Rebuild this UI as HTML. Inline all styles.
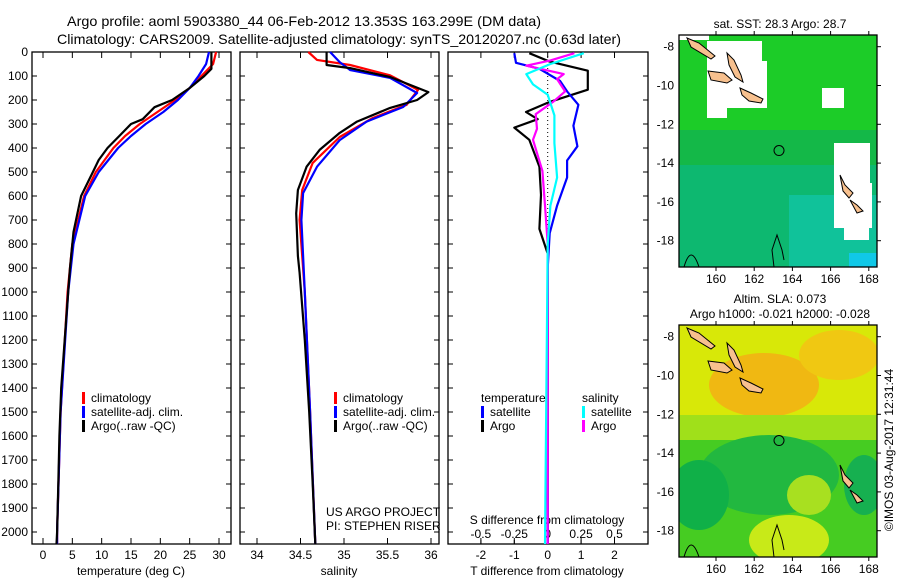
<!DOCTYPE html>
<html><head><meta charset="utf-8"><style>
html,body{margin:0;padding:0;background:#fff}
svg{display:block;font-family:"Liberation Sans",sans-serif}
</style></head><body>
<svg id="c" width="900" height="580" viewBox="0 0 900 580"></svg>
<script>
// ---- data ----
const tDepth=[0,50,70,100,150,200,230,280,300,350,400,450,500,600,750,900,1000,1200,1400,1600,1800,2000,2050];
const tArgo=[28.7,28.7,28.7,27.5,25,22,19,17,15,13,11,9.5,8.5,6.5,5.2,4.6,4.3,3.7,3.1,2.8,2.6,2.4,2.3];
const tClimDepth=[0,50,100,150,200,250,300,350,400,500,600,800,1000,1500,2000,2050];
const tClim=[29.5,29,27,25,22.5,19.5,16.5,14,12,9,7,5,4.2,3,2.4,2.4];
const tSat=[28.3,27.8,26.5,25,23,20.5,17.5,15,12.8,9.5,7.2,5.2,4.3,3.0,2.4,2.4];
const sArgoDepth=[0,54,67,104,167,200,233,290,337,408,478,575,672,850,920,1200,1500,1800,2050];
const sArgo=[34.8,34.8,35.07,35.53,35.97,35.84,35.53,35.15,34.95,34.72,34.57,34.47,34.45,34.47,34.49,34.55,34.6,34.64,34.67];
const sClimDepth=[0,33,54,97,158,220,275,354,462,575,700,1000,1500,2050];
const sClim=[34.59,34.69,35.07,35.53,35.85,35.72,35.33,34.95,34.64,34.52,34.49,34.55,34.61,34.67];
const sSatDepth=[0,42,75,108,171,229,290,367,478,588,700,1000,1500,2050];
const sSat=[34.84,34.95,35.07,35.53,35.84,35.68,35.26,34.95,34.69,34.53,34.51,34.55,34.61,34.67];
const dTArgoDepth=[5,40,78,107,157,208,250,280,315,366,478,595,737,840,2050];
const dTArgo=[-0.55,0.06,1.2,1.2,1.2,0.06,-0.65,-0.3,-1.0,-0.55,-0.25,-0.2,-0.25,0.0,0.0];
const dTSatDepth=[5,45,70,121,164,220,307,393,452,523,640,755,900,2050];
const dTSat=[-1.0,-0.95,-0.25,0.37,0.58,0.92,0.77,0.89,0.58,0.58,0.28,0.06,0.0,0.0];
const dSSatDepth=[5,50,92,135,178,264,380,523,640,800,2050];
const dSSat=[0.27,0.02,-0.16,-0.11,0.0,0.05,0.05,0.07,0.02,0.0,-0.02];
const dSArgoDepth=[5,35,57,92,113,164,208,259,320,366,496,640,800,2050];
const dSArgo=[0.2,0.02,-0.16,0.12,0.07,0.13,0.04,-0.09,-0.08,-0.11,-0.04,-0.02,0.0,0.0];
const depthTicks=[0,100,200,300,400,500,600,700,800,900,1000,1100,1200,1300,1400,1500,1600,1700,1800,1900,2000];
const tTicks=[0,5,10,15,20,25,30];
const sTicks=[34,34.5,35,35.5,36];
const sTickLabels=["34","34.5","35","35.5","36"];
const dTTicks=[-2,-1,0,1,2];
const dSTicks=[-0.5,-0.25,0,0.25,0.5];
const dSTickLabels=["-0.5","-0.25","0","0.25","0.5"];
const lonTicks=[160,162,164,166,168];
const latTicks=[-8,-10,-12,-14,-16,-18];

const NS="http://www.w3.org/2000/svg";
const svg=document.getElementById('c');
function el(tag,attrs,parent,txt){const e=document.createElementNS(NS,tag);for(const k in attrs)e.setAttribute(k,attrs[k]);if(txt!=null)e.textContent=txt;(parent||svg).appendChild(e);return e;}
const Y=d=>52+d*0.24;
const xT=v=>43+v*(176/30);
const xS=v=>257+(v-34)*87;
const xDT=v=>547.7+v*33.4;
const xDS=v=>547.7+v*133.6;

let t1=el('text',{x:67,y:26,'font-size':14,textLength:474,lengthAdjust:'spacingAndGlyphs'},svg,'Argo profile: aoml 5903380_44 06-Feb-2012 13.353S 163.299E (DM data)');

let t2=el('text',{x:57,y:44,'font-size':14,textLength:564,lengthAdjust:'spacingAndGlyphs'},svg,'Climatology: CARS2009. Satellite-adjusted climatology: synTS_20120207.nc (0.63d later)');


const panels=[{x0:32,x1:231,name:'temperature-panel'},{x0:240,x1:439,name:'salinity-panel'},{x0:448,x1:648,name:'difference-panel'}];
panels.forEach(p=>{
  const g=el('g',{});
  
  p.g=g;
  el('rect',{x:p.x0,y:52,width:p.x1-p.x0,height:492,fill:'none',stroke:'#000','stroke-width':1.3},g);
  depthTicks.forEach(d=>{
    el('line',{x1:p.x0,x2:p.x0+5,y1:Y(d),y2:Y(d),stroke:'#000'},g);
    el('line',{x1:p.x1-5,x2:p.x1,y1:Y(d),y2:Y(d),stroke:'#000'},g);
  });
});
const yax=el('g',{});
depthTicks.forEach(d=>{el('text',{x:28,y:Y(d)+4,'font-size':12,'text-anchor':'end'},yax,String(d));});

function xAxis(g,ticks,labels,fx,ty,name){
  const a=el('g',{},g);
  ticks.forEach((v,i)=>{
    el('line',{x1:fx(v),x2:fx(v),y1:544,y2:538,stroke:'#000'},a);
    el('line',{x1:fx(v),x2:fx(v),y1:52,y2:58,stroke:'#000'},a);
    el('text',{x:fx(v),y:ty,'font-size':12,'text-anchor':'middle'},a,labels[i]);
  });
}
xAxis(panels[0].g,tTicks,tTicks.map(String),xT,559,'temperature-x-axis');
xAxis(panels[1].g,sTicks,sTickLabels,xS,559,'salinity-x-axis');
xAxis(panels[2].g,dTTicks,dTTicks.map(String),xDT,559,'t-diff-x-axis');
const sda=el('g',{},panels[2].g);
dSTicks.forEach((v,i)=>{el('line',{x1:xDS(v),x2:xDS(v),y1:544,y2:540,stroke:'#000'},sda);el('text',{x:xDS(v),y:538,'font-size':12,'text-anchor':'middle'},sda,dSTickLabels[i]);});
el('text',{x:547,y:524,'font-size':12,'text-anchor':'middle'},sda,'S difference from climatology');
let at;
at=el('text',{x:131,y:575,'font-size':12,'text-anchor':'middle'},svg,'temperature (deg C)');
at=el('text',{x:339,y:575,'font-size':12,'text-anchor':'middle'},svg,'salinity');
at=el('text',{x:547,y:575,'font-size':12,'text-anchor':'middle'},svg,'T difference from climatology');

el('line',{x1:xDT(0),x2:xDT(0),y1:52,y2:544,stroke:'#000','stroke-dasharray':'1 3'},panels[2].g);

function line(g,ds,vs,fx,col,w,name){
  const pts=ds.map((d,i)=>fx(vs[i]).toFixed(1)+','+Y(d).toFixed(1)).join(' ');
  const p=el('polyline',{points:pts,fill:'none',stroke:col,'stroke-width':w,'stroke-linejoin':'round'},g);
  
}
line(panels[0].g,tClimDepth,tClim,xT,'#f00',2.2,'temp-climatology-line');
line(panels[0].g,tClimDepth,tSat,xT,'#00f',2.2,'temp-satellite-line');
line(panels[0].g,tDepth,tArgo,xT,'#000',2.2,'temp-argo-line');
line(panels[1].g,sClimDepth,sClim,xS,'#f00',2.2,'sal-climatology-line');
line(panels[1].g,sSatDepth,sSat,xS,'#00f',2.2,'sal-satellite-line');
line(panels[1].g,sArgoDepth,sArgo,xS,'#000',2.2,'sal-argo-line');
line(panels[2].g,dTArgoDepth,dTArgo,xDT,'#000',2.2,'t-diff-argo-line');
line(panels[2].g,dTSatDepth,dTSat,xDT,'#00f',2.2,'t-diff-satellite-line');
line(panels[2].g,dSArgoDepth,dSArgo,xDS,'#f0f',2.2,'s-diff-argo-line');
line(panels[2].g,dSSatDepth,dSSat,xDS,'#0ff',2.2,'s-diff-satellite-line');

function legend(g,x,y,items,name){
  const lg=el('g',{},g);
  items.forEach((it,i)=>{
    if(it[0])el('rect',{x:x,y:y+i*14-10,width:3,height:12,fill:it[0]},lg);
    el('text',{x:x+(it[0]?9:0),y:y+i*14,'font-size':12},lg,it[1]);
  });
}
legend(panels[0].g,82,402,[['#f00','climatology'],['#00f','satellite-adj. clim.'],['#000','Argo(..raw -QC)']],'temperature-legend');
legend(panels[1].g,334,402,[['#f00','climatology'],['#00f','satellite-adj. clim.'],['#000','Argo(..raw -QC)']],'salinity-legend');
legend(panels[2].g,481,402,[[null,'temperature'],['#00f','satellite'],['#000','Argo']],'diff-legend-temperature');
legend(panels[2].g,582,402,[[null,'salinity'],['#0ff','satellite'],['#f0f','Argo']],'diff-legend-salinity');
el('text',{x:326,y:516,'font-size':12},panels[1].g,'US ARGO PROJECT');
el('text',{x:326,y:530,'font-size':12},panels[1].g,'PI: STEPHEN RISER');

// ---- maps ----
const lonX=l=>716+(l-160)*19.1;
function map(y0,kind,name,t1s){
  const g=el('g',{});
  const latY=l=>y0+11.7+(-8-l)*19.4;
  const h=232, x0=679, w=198;
  const cid='clip'+kind;
  const cp=el('clipPath',{id:cid},g);el('rect',{x:x0,y:y0,width:w,height:h},cp);
  const inner=el('g',{'clip-path':'url(#'+cid+')'},g);
  if(kind==='sst'){
    el('rect',{x:x0,y:y0,width:w,height:h,fill:'#14b848'},inner);
    el('rect',{x:x0,y:y0,width:w,height:95,fill:'#1ccc28'},inner);
    el('rect',{x:x0,y:y0+130,width:w,height:102,fill:'#0db870'},inner);
    el('rect',{x:x0+110,y:y0+160,width:88,height:72,fill:'#10c29a'},inner);
    el('rect',{x:x0+170,y:y0+218,width:28,height:14,fill:'#10c8e8'},inner);
    [[0,0,30,5],[28,6,55,20],[28,26,60,47],[28,73,20,10],[143,53,22,20],[155,108,36,40],[155,148,38,45],[165,193,25,12]].forEach(r=>el('rect',{x:x0+r[0],y:y0+r[1],width:r[2],height:r[3],fill:'#fff'},inner));
  } else {
    el('rect',{x:x0,y:y0,width:w,height:h,fill:'#46cc22'},inner);
    el('rect',{x:x0,y:y0,width:w,height:95,fill:'#d8e808'},inner);
    el('ellipse',{cx:x0+85,cy:y0+60,rx:55,ry:32,fill:'#f0b812'},inner);
    el('ellipse',{cx:x0+160,cy:y0+30,rx:40,ry:25,fill:'#f0c812'},inner);
    el('rect',{x:x0,y:y0+90,width:w,height:25,fill:'#a0e01a'},inner);
    el('ellipse',{cx:x0+90,cy:y0+150,rx:70,ry:40,fill:'#22b840'},inner);
    el('ellipse',{cx:x0+20,cy:y0+170,rx:30,ry:35,fill:'#10b048'},inner);
    el('ellipse',{cx:x0+110,cy:y0+215,rx:40,ry:25,fill:'#c8ea18'},inner);
    el('ellipse',{cx:x0+130,cy:y0+170,rx:22,ry:20,fill:'#a8e020'},inner);
    el('ellipse',{cx:x0+185,cy:y0+160,rx:20,ry:30,fill:'#16b050'},inner);
  }
  const isl=[[[8,3],[20,8],[36,21],[32,24],[12,12]],[[29,36],[45,38],[53,45],[48,48],[32,45]],[[48,18],[55,25],[62,40],[64,47],[56,42],[50,30]],[[61,53],[72,58],[84,64],[82,68],[70,66],[63,60]],[[161,140],[166,150],[174,158],[170,163],[164,156]],[[171,165],[178,170],[184,176],[178,178]]];
  isl.forEach(pl=>el('polygon',{points:pl.map(p=>(x0+p[0])+','+(y0+p[1])).join(' '),fill:'#f7c08e',stroke:'#000','stroke-width':1},inner));
  el('path',{d:`M${x0+95} ${y0+232} L${x0+93} ${y0+215} L${x0+98} ${y0+200} L${x0+103} ${y0+215} L${x0+105} ${y0+225}`,fill:'none',stroke:'#000'},inner);
  el('path',{d:`M${x0+5} ${y0+232} Q${x0+12} ${y0+208} ${x0+20} ${y0+232}`,fill:'none',stroke:'#000'},inner);
  el('circle',{cx:lonX(163.299),cy:latY(-13.353),r:5,fill:'none',stroke:'#000'},inner);
  el('rect',{x:x0,y:y0,width:w,height:h,fill:'none',stroke:'#000','stroke-width':1.3},g);
  lonTicks.forEach(l=>{el('line',{x1:lonX(l),x2:lonX(l),y1:y0,y2:y0-4,stroke:'#000'},g);el('line',{x1:lonX(l),x2:lonX(l),y1:y0+h,y2:y0+h+4,stroke:'#000'},g);el('text',{x:lonX(l),y:y0+h+16,'font-size':12,'text-anchor':'middle'},g,String(l));});
  latTicks.forEach(l=>{el('line',{x1:x0+w,x2:x0+w+4,y1:latY(l),y2:latY(l),stroke:'#000'},g);el('text',{x:674,y:latY(l)+4,'font-size':12,'text-anchor':'end'},g,String(l));});
  t1s.forEach((s,i)=>el('text',{x:780,y:y0-(t1s.length-i-1)*15-7,'font-size':12,'text-anchor':'middle'},g,s));
}
map(35,'sst','sst-map',['sat. SST: 28.3 Argo: 28.7']);
map(325,'sla','sla-map',['Altim. SLA: 0.073','Argo h1000: -0.021 h2000: -0.028']);
const ft=el('text',{x:0,y:0,'font-size':12,'text-anchor':'middle',transform:'translate(893,450) rotate(-90)'},svg,'©IMOS 03-Aug-2017 12:31:44');

</script>
</body></html>
